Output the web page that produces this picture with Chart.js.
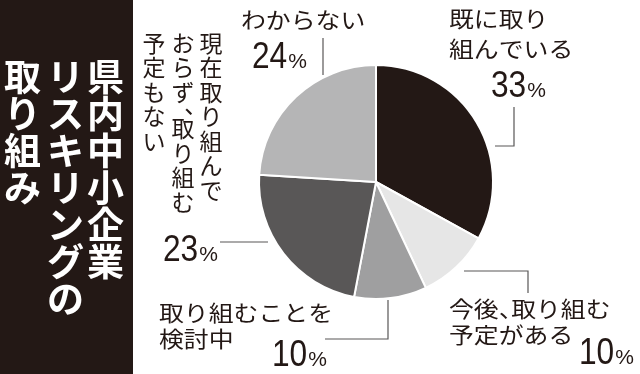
<!DOCTYPE html>
<html><head><meta charset="utf-8">
<script src="https://cdn.jsdelivr.net/npm/chart.js@4/dist/chart.umd.min.js"></script>
<style>html,body{margin:0;padding:0;background:#fff;}canvas{display:block;}</style>
</head><body>
<canvas id="c" width="640" height="374"></canvas>
<script>
// ---- data ----
const titleColumns = ["県内中小企業", "リスキリングの", "取り組み"];
const categories = ["既に取り組んでいる", "今後、取り組む予定がある", "取り組むことを検討中", "現在取り組んでおらず、取り組む予定もない", "わからない"];
const values = [33, 10, 10, 23, 24];
const labelLines = [
  ["既に取り", "組んでいる"],
  ["今後、取り組む", "予定がある"],
  ["取り組むことを", "検討中"],
  ["現在取り組んで", "おらず、取り組む", "予定もない"],
  ["わからない"]
];
const colors = ["#231815", "#e6e6e6", "#9f9fa0", "#595757", "#b5b5b6"];

// ---- layout (positions of annotations) ----
const place = [
  {mode: 'h', x: 449, ys: [19, 49], num: {x: 491, y: 97}, line: [[514,107],[514,146],[495,146]]},
  {mode: 'h', x: 449, ys: [309, 335], num: {x: 579, y: 364}, line: [[464,271],[528,271],[528,293]]},
  {mode: 'h', x: 159, ys: [313, 339], num: {x: 272, y: 366}, line: [[325,339],[388,339],[388,300]]},
  {mode: 'v', cols: [211, 183, 154], y0: 43, pitch: 24.5, num: {x: 163, y: 261}, line: [[220,242],[268,242]]},
  {mode: 'h', x: 241, ys: [20], num: {x: 252, y: 68}, line: [[323,38],[323,75]]}
];

const JP = "'Noto Sans CJK JP', 'Noto Sans CJK SC', sans-serif";
const NUM = "'Liberation Sans', Arial, sans-serif";
const INK = "#231815";

function drawH(ctx, text, x, y, size, sx) {
  ctx.save();
  ctx.font = `400 ${size}px ${JP}`;
  ctx.textBaseline = 'middle';
  ctx.textAlign = 'left';
  let cx = x;
  for (const ch of text) {
    ctx.save();
    ctx.translate(cx, y);
    ctx.scale(sx, 1);
    ctx.fillText(ch, 0, 0);
    ctx.restore();
    cx += (ch === '、' ? 0.5 : 1) * size * sx;
  }
  ctx.restore();
}

function drawV(ctx, text, x, y0, size, pitch, weight) {
  ctx.save();
  ctx.font = `${weight} ${size}px ${JP}`;
  ctx.textBaseline = 'middle';
  ctx.textAlign = 'center';
  let y = y0;
  for (const ch of text) {
    if (ch === '、') {
      ctx.fillText(ch, x + size * 0.55, y - size * 0.55);
      y += pitch * 0.5;
      continue;
    }
    ctx.fillText(ch, x, y);
    y += pitch;
  }
  ctx.restore();
}

function drawNum(ctx, v, x, y) {
  ctx.save();
  ctx.textBaseline = 'alphabetic';
  ctx.textAlign = 'left';
  const s = String(v);
  ctx.font = `400 36px ${NUM}`;
  const sx = 0.88;
  const w = ctx.measureText(s).width * sx;
  ctx.save();
  ctx.translate(x, y);
  ctx.scale(sx, 1);
  ctx.fillText(s, 0, 0);
  ctx.restore();
  ctx.font = `400 21px ${NUM}`;
  ctx.fillText('%', x + w + 1, y);
  ctx.restore();
}

const bandPlugin = {
  id: 'band',
  beforeDraw(chart) {
    const ctx = chart.ctx;
    ctx.save();
    ctx.fillStyle = '#fff';
    ctx.fillRect(0, 0, chart.width, chart.height);
    ctx.fillStyle = '#231815';
    ctx.fillRect(0, 0, 133, chart.height);
    ctx.fillStyle = '#fff';
    const colX = [105.5, 65.5, 22.5];
    titleColumns.forEach((t, i) => drawV(ctx, t, colX[i], 76.5, 37, 37, 700));
    ctx.restore();
  }
};

const labelPlugin = {
  id: 'labels',
  afterDraw(chart) {
    const ctx = chart.ctx;
    ctx.save();
    place.forEach((p, i) => {
      ctx.strokeStyle = '#595757';
      ctx.lineWidth = 1.2;
      ctx.beginPath();
      p.line.forEach((pt, k) => k === 0 ? ctx.moveTo(pt[0], pt[1]) : ctx.lineTo(pt[0], pt[1]));
      ctx.stroke();
      ctx.fillStyle = INK;
      if (p.mode === 'h') {
        labelLines[i].forEach((t, k) => drawH(ctx, t, p.x, p.ys[k], 22, 1.13));
      } else {
        labelLines[i].forEach((t, k) => drawV(ctx, t, p.cols[k], p.y0, 23, p.pitch, 400));
      }
      drawNum(ctx, chart.data.datasets[0].data[i], p.num.x, p.num.y);
    });
    ctx.restore();
  }
};

new Chart(document.getElementById('c').getContext('2d'), {
  type: 'pie',
  data: {
    labels: categories,
    datasets: [{
      data: values,
      backgroundColor: colors,
      borderColor: '#ffffff',
      borderWidth: 2,
      hoverOffset: 0,
      offset: 0
    }]
  },
  options: {
    responsive: false,
    animation: false,
    events: [],
    layout: {padding: {left: 258, right: 146, top: 64, bottom: 74}},
    plugins: {legend: {display: false}, tooltip: {enabled: false}}
  },
  plugins: [bandPlugin, labelPlugin]
});
</script>
</body></html>
